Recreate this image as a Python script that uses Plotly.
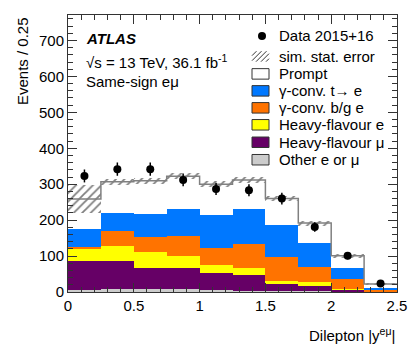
import numpy as np
import plotly.graph_objects as go

# bin edges in dilepton |y|
edges = [0, 0.25, 0.5, 0.75, 1.0, 1.25, 1.5, 1.75, 2.0, 2.25, 2.5]

# simulated contributions per bin (events / 0.25), bottom of the stack first
other = [5, 8, 8, 7, 6, 4, 2, 2, 1, 0.5]
hf_mu = [81, 77, 60, 59, 48, 43, 21, 16, 6, 0.5]
hf_e = [36, 44, 43, 33, 22, 20, 7, 9, 2, 0.5]
conv_bg = [4, 40, 42, 56, 47, 68, 67, 43, 28, 5.5]
conv_t = [49, 51, 64, 77, 91, 97, 90, 67, 30, 5]
prompt = [84, 87, 93, 90, 86, 80, 73, 55, 34, 10]
sim_err = [40, 8, 8, 8, 8, 8, 7, 7, 5, 3]

data = [323, 342, 342, 312, 287, 283, 260, 181, 101, 24]

edges = np.array(edges)
centers = (edges[:-1] + edges[1:]) / 2
widths = np.diff(edges)
total = np.sum([other, hf_mu, hf_e, conv_bg, conv_t, prompt], axis=0)
err = np.array(sim_err)

FONT = "Liberation Sans, Arial, Helvetica, sans-serif"

samples = [
    ("Other e or \u03bc", other, "#cccccc"),
    ("Heavy-flavour \u03bc", hf_mu, "#660066"),
    ("Heavy-flavour e", hf_e, "#ffff00"),
    ("\u03b3-conv. b/g e", conv_bg, "#ff7300"),
    ("\u03b3-conv. t\u2192 e", conv_t, "#0078ff"),
    ("Prompt", prompt, "#ffffff"),
]

# plot area in pixels (for placing the hand-made legend)
L, R, T, B = 68, 397, 15, 292.5


def px(x):
    return (x - L) / (R - L)


def py(y):
    return (B - y) / (B - T)


fig = go.Figure()

for name, vals, col in samples:
    fig.add_trace(go.Bar(x=centers, y=vals, width=widths, marker_color=col,
                         marker_line_width=0, showlegend=False, name=name))

# stack outline
fig.add_trace(go.Scatter(x=edges, y=list(total) + [total[-1]], mode="lines",
                         line=dict(color="#808080", width=1.5, shape="hv"),
                         showlegend=False, hoverinfo="skip"))

# simulation stat. error band (hatched)
fig.add_trace(go.Bar(x=centers, y=2 * err, base=total - err, width=widths,
                     marker=dict(color="rgba(0,0,0,0)", line_width=0,
                                 pattern=dict(shape="/", fgcolor="#000000",
                                              bgcolor="rgba(0,0,0,0)",
                                              size=6, solidity=0.3)),
                     showlegend=False))

fig.add_trace(go.Scatter(x=centers, y=data, mode="markers",
                         marker=dict(color="black", size=8),
                         error_y=dict(type="data", array=np.sqrt(data),
                                      color="black", thickness=1.5, width=0),
                         showlegend=False))

# legend drawn by hand
legend_rows = [("Data 2015+16", "dot", None), ("sim. stat. error", "hatch", None)]
legend_rows += [(name, "box", col) for name, vals, col in samples[::-1]]
row_y = [36, 56.5, 74, 91, 108, 125, 142.5, 160]
sx0, sx1, sh = 252, 269, 10.5

for (name, kind, col), yc in zip(legend_rows, row_y):
    if kind == "dot":
        fig.add_shape(type="circle", xref="paper", yref="paper",
                      x0=px(258), x1=px(266), y0=py(yc + 4), y1=py(yc - 4),
                      fillcolor="black", line_width=0)
    elif kind == "hatch":
        path = ""
        for k in range(5):
            xa = sx0 - 6 + 5 * k
            xs = [xa, xa + sh]
            ys = [yc + sh / 2, yc - sh / 2]
            if xs[0] < sx0:
                ys[0] -= sx0 - xs[0]
                xs[0] = sx0
            if xs[1] > sx1:
                ys[1] += xs[1] - sx1
                xs[1] = sx1
            path += f"M {px(xs[0]):.4f} {py(ys[0]):.4f} L {px(xs[1]):.4f} {py(ys[1]):.4f} "
        fig.add_shape(type="path", xref="paper", yref="paper", path=path,
                      line=dict(color="#333333", width=1))
    else:
        fig.add_shape(type="rect", xref="paper", yref="paper",
                      x0=px(sx0), x1=px(sx1), y0=py(yc + sh / 2), y1=py(yc - sh / 2),
                      fillcolor=col, line=dict(color="#333333", width=1))
    fig.add_annotation(text=name, xref="paper", yref="paper", x=px(277), y=py(yc),
                       xanchor="left", yanchor="middle", showarrow=False,
                       font=dict(size=15))

fig.update_layout(
    width=414, height=353,
    margin=dict(l=L, r=414 - R, t=T, b=353 - B),
    barmode="stack", bargap=0,
    plot_bgcolor="white", paper_bgcolor="white",
    font=dict(family=FONT, size=15, color="black"),
    showlegend=False,
)

fig.update_xaxes(range=[0, 2.5], dtick=0.5, tick0=0, ticks="inside", ticklen=9,
                 tickcolor="#333333", showline=True, linecolor="#333333",
                 linewidth=1, mirror="allticks", showgrid=False, zeroline=False,
                 automargin=False,
                 minor=dict(dtick=0.1, ticks="inside", ticklen=5,
                            tickcolor="#333333"),
                 tickfont=dict(size=15))
fig.update_yaxes(range=[0, 771], dtick=100, tick0=0, ticks="inside", ticklen=9,
                 tickcolor="#333333", showline=True, linecolor="#333333",
                 linewidth=1, mirror="allticks", showgrid=False, zeroline=False,
                 automargin=False,
                 minor=dict(dtick=20, ticks="inside", ticklen=5,
                            tickcolor="#333333"),
                 tickfont=dict(size=15))

fig.add_annotation(text="Events / 0.25", textangle=-90, xref="paper", yref="paper",
                   x=px(22), y=1.0, xanchor="center", yanchor="top",
                   showarrow=False, font=dict(size=15))
fig.add_annotation(text="Dilepton |y<sup>e\u03bc</sup>|", xref="paper", yref="paper",
                   x=1.0, y=py(335), xanchor="right", yanchor="middle",
                   showarrow=False, font=dict(size=15))
fig.add_annotation(text="<b><i>ATLAS</i></b>", xref="paper", yref="paper",
                   x=px(84), y=py(39), xanchor="left", yanchor="middle",
                   showarrow=False, font=dict(size=15))
fig.add_annotation(text="\u221as = 13 TeV, 36.1 fb<sup>-1</sup>", xref="paper",
                   yref="paper", x=px(84), y=py(62), xanchor="left",
                   yanchor="middle", showarrow=False, font=dict(size=15))
fig.add_annotation(text="Same-sign e\u03bc", xref="paper", yref="paper",
                   x=px(84), y=py(82), xanchor="left", yanchor="middle",
                   showarrow=False, font=dict(size=15))

# the page body has a default 8px margin; drop it so the figure sits at the corner
fig.write_html("out.html", config={"displayModeBar": False},
               post_script="document.body.style.margin = '0';")
